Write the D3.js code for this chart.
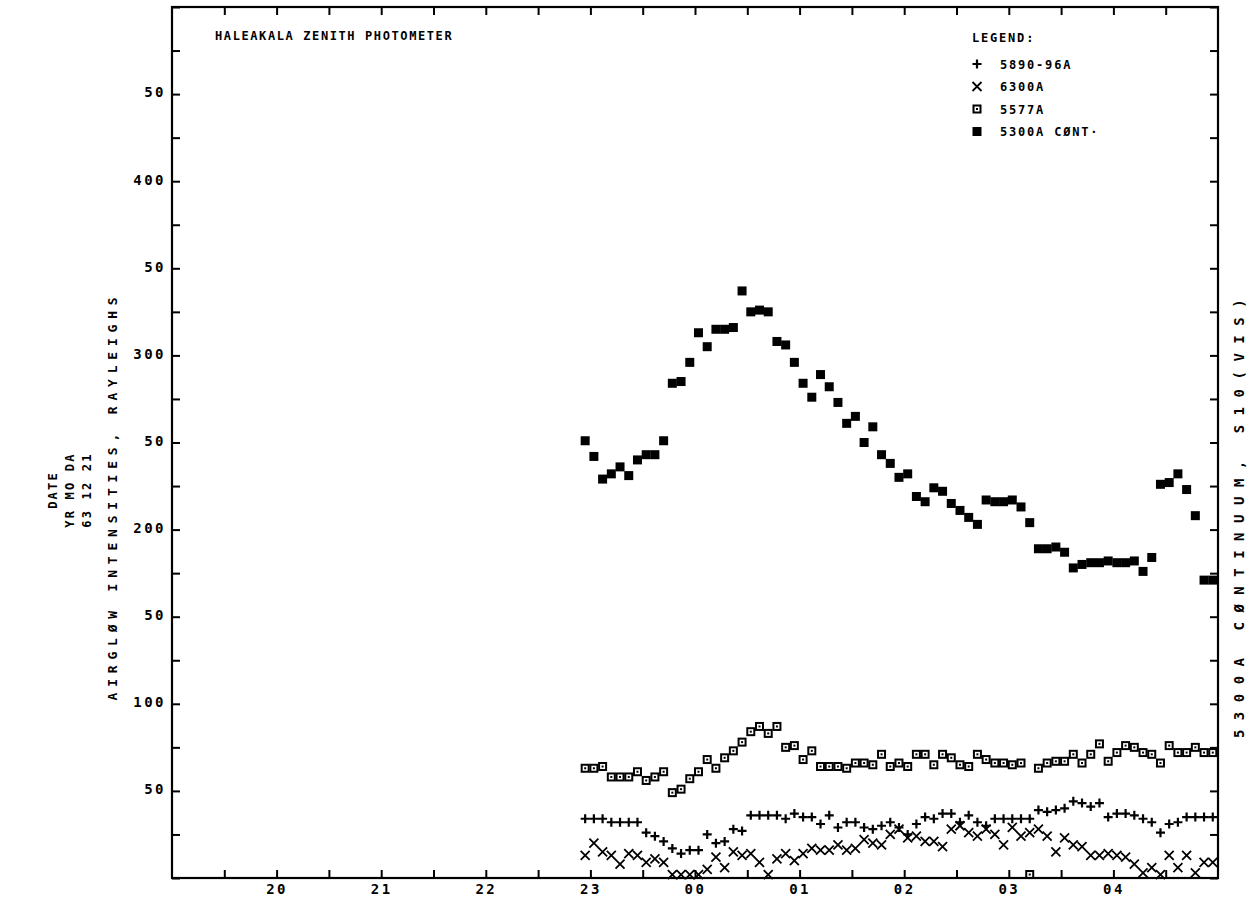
<!DOCTYPE html>
<html>
<head>
<meta charset="utf-8">
<script src="https://cdn.jsdelivr.net/npm/d3@7"></script>
<style>
  body { margin: 0; background: #fff; }
  text { font-family: "DejaVu Sans Mono", monospace; fill: #000; font-weight: bold; }
</style>
</head>
<body>
<svg width="1254" height="898"></svg>
<script>
var svg = d3.select('svg');

// sample times (local), 5 min apart, 63 12 21
var times = ['2257','2302','2307','2312','2317','2322','2327','2332','2337','2342','2347','2352','2357',
  '0002','0007','0012','0017','0022','0027','0032','0037','0042','0047','0052','0057',
  '0102','0107','0112','0117','0122','0127','0132','0137','0142','0147','0152','0157',
  '0202','0207','0212','0217','0222','0227','0232','0237','0242','0247','0252','0257',
  '0302','0307','0312','0317','0322','0327','0332','0337','0342','0347','0352','0357',
  '0402','0407','0412','0417','0422','0427','0432','0437','0442','0447','0452','0457'];

// 5300A continuum (filled squares)
var cont5300 = [251,242,229,232,236,231,240,243,243,251,284,285,296,313,305,315,315,316,337,325,
  326,325,308,306,296,284,276,289,282,273,261,265,250,259,243,238,230,232,219,216,
  224,222,215,211,207,203,217,216,216,217,213,204,189,189,190,187,178,180,181,181,
  182,181,181,182,176,184,226,227,232,223,208,171,171];

// 5577A (open squares)
var g5577 = [63,63,64,58,58,58,61,56,58,61,49,51,57,61,68,63,69,73,78,84,
  87,83,87,75,76,68,73,64,64,64,63,66,66,65,71,64,66,64,71,71,
  65,71,69,65,64,71,68,66,66,65,66,2,63,66,67,67,71,66,71,77,
  67,72,76,75,72,71,66,76,72,72,75,72,72];

// 5890-96A (plus)
var na5890 = [34,34,34,32,32,32,32,26,24,21,17,14,16,16,25,20,21,28,27,36,
  36,36,36,34,37,35,35,31,36,29,32,32,29,28,30,32,29,25,31,35,
  34,37,37,32,36,32,30,34,34,34,34,34,39,38,39,40,44,43,41,43,
  35,37,37,36,34,32,26,31,32,35,35,35,35];

// 6300A (x)
var o6300 = [13,20,15,13,8,14,13,9,11,9,2,2,2,2,5,12,6,15,13,14,
  9,2,11,14,10,14,17,16,16,19,16,17,22,20,19,25,28,23,24,21,
  21,18,28,30,26,24,28,25,19,29,24,26,28,24,15,23,19,18,13,13,
  14,13,12,8,3,6,2,13,6,13,3,9,9];

var yTicks = d3.range(0, 501, 25);
var yLabels = {50: '50', 100: '100', 150: '50', 200: '200', 250: '50', 300: '300', 350: '50', 400: '400', 450: '50'};
var xTicks = d3.range(19.5, 29, 0.5);
var xLabels = {20: '20', 21: '21', 22: '22', 23: '23', 24: '00', 25: '01', 26: '02', 27: '03', 28: '04'};
var legendItems = [
  {sym: 'plus', label: '5890-96A'},
  {sym: 'cross', label: '6300A'},
  {sym: 'open', label: '5577A'},
  {sym: 'filled', label: '5300A CØNT·'}
];

var plotL = 172, plotR = 1218, plotT = 7, plotB = 878;

function toHour(t) {
  var h = +t.slice(0, 2) + (+t.slice(2)) / 60;
  if (h < 12) h += 24;
  return h;
}

var xScale = d3.scaleLinear().domain([19, 29]).range([plotL, plotR]);
var yScale = d3.scaleLinear().domain([0, 500]).range([plotB, plotT]);

// frame + axes (ticks point inward)
svg.append('rect')
  .attr('x', plotL).attr('y', plotT)
  .attr('width', plotR - plotL).attr('height', plotB - plotT)
  .attr('fill', 'none').attr('stroke', '#000').attr('stroke-width', 2.2);

var yAxisL = svg.append('g').attr('transform', 'translate(' + plotL + ',0)')
  .call(d3.axisLeft(yScale).tickValues(yTicks).tickSize(-8).tickPadding(6)
    .tickFormat(function(d) { return yLabels[d] || ''; }));
var yAxisR = svg.append('g').attr('transform', 'translate(' + plotR + ',0)')
  .call(d3.axisRight(yScale).tickValues(yTicks).tickSize(-8).tickFormat(''));
var xAxisB = svg.append('g').attr('transform', 'translate(0,' + plotB + ')')
  .call(d3.axisBottom(xScale).tickValues(xTicks).tickSize(-8).tickPadding(4)
    .tickFormat(function(d) { return xLabels[d] || ''; }));
var xAxisT = svg.append('g').attr('transform', 'translate(0,' + plotT + ')')
  .call(d3.axisTop(xScale).tickValues(xTicks).tickSize(-8).tickFormat(''));

svg.selectAll('.domain').remove();
svg.selectAll('.tick line').attr('stroke', '#000').attr('stroke-width', 2);
yAxisL.selectAll('text').style('font-size', '14px').attr('letter-spacing', 2.5).attr('dy', '0.2em');
xAxisB.selectAll('text').style('font-size', '14px').attr('letter-spacing', 2.5).attr('dy', '0.85em');

// symbol drawing
function drawSym(g, sym) {
  if (sym == 'filled') {
    g.append('rect').attr('x', -4.5).attr('y', -4.5).attr('width', 9).attr('height', 9).attr('fill', '#000');
  } else if (sym == 'open') {
    g.append('rect').attr('x', -3.5).attr('y', -3.5).attr('width', 7).attr('height', 7)
      .attr('fill', 'none').attr('stroke', '#000').attr('stroke-width', 2);
    g.append('rect').attr('x', -1).attr('y', -1).attr('width', 2).attr('height', 2).attr('fill', '#000');
  } else if (sym == 'plus') {
    g.append('path').attr('d', 'M-4.5,0H4.5M0,-4.5V4.5').attr('stroke', '#000').attr('stroke-width', 2.2);
  } else if (sym == 'cross') {
    g.append('path').attr('d', 'M-4.5,-4.5L4.5,4.5M-4.5,4.5L4.5,-4.5').attr('stroke', '#000').attr('stroke-width', 1.8);
  }
}

function plotSeries(values, sym) {
  var pts = svg.append('g').selectAll('.pt')
    .data(values.map(function(v, i) { return {t: toHour(times[i]), v: v}; }))
    .enter().append('g')
    .attr('class', 'pt')
    .attr('transform', function(d) { return 'translate(' + xScale(d.t) + ',' + yScale(d.v) + ')'; });
  pts.each(function() { drawSym(d3.select(this), sym); });
}

plotSeries(o6300, 'cross');
plotSeries(na5890, 'plus');
plotSeries(g5577, 'open');
plotSeries(cont5300, 'filled');

// title
svg.append('text').attr('x', 215).attr('y', 40)
  .style('font-size', '12px').attr('letter-spacing', 1.6)
  .text('HALEAKALA ZENITH PHOTOMETER');

// legend
svg.append('text').attr('x', 972).attr('y', 42)
  .style('font-size', '12px').attr('letter-spacing', 1.8)
  .text('LEGEND:');
var leg = svg.selectAll('.leg').data(legendItems).enter().append('g')
  .attr('class', 'leg')
  .attr('transform', function(d, i) { return 'translate(977,' + (64 + i * 22.5) + ')'; });
leg.each(function(d) { drawSym(d3.select(this), d.sym); });
leg.append('text').attr('x', 23).attr('dy', '0.38em')
  .style('font-size', '12px').attr('letter-spacing', 1.8)
  .text(function(d) { return d.label; });

// axis titles
svg.append('text')
  .attr('transform', 'translate(117,496) rotate(-90)')
  .attr('text-anchor', 'middle')
  .style('font-size', '13px').attr('letter-spacing', 5.8)
  .text('AIRGLØW INTENSITIES, RAYLEIGHS');

svg.append('text')
  .attr('transform', 'translate(1244,514) rotate(-90)')
  .attr('text-anchor', 'middle')
  .style('font-size', '14px').attr('letter-spacing', 9.5)
  .text('5300A CØNTINUUM, S10(VIS)');

var dateLines = ['DATE', 'YR MO DA', '63 12 21'];
svg.selectAll('.date').data(dateLines).enter().append('text')
  .attr('class', 'date')
  .attr('transform', function(d, i) { return 'translate(' + (57 + i * 17) + ',490) rotate(-90)'; })
  .attr('text-anchor', 'middle')
  .style('font-size', '12px').attr('letter-spacing', 2.2)
  .style('white-space', 'pre')
  .text(function(d) { return d; });
</script>
</body>
</html>
